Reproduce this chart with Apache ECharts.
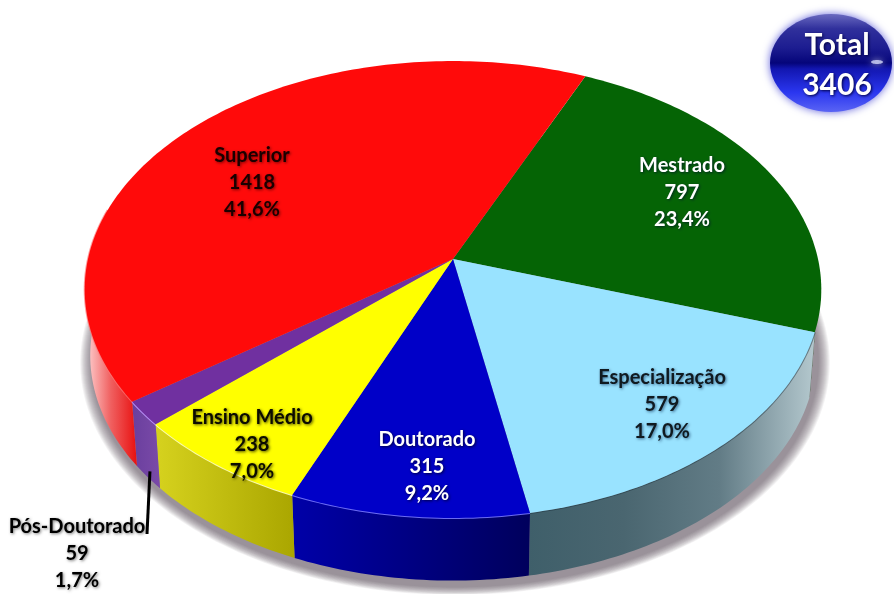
<!DOCTYPE html>
<html><head><meta charset="utf-8">
<style>html,body{margin:0;padding:0;background:#fff}#c{width:894px;height:594px}</style>
<script src="https://cdn.jsdelivr.net/npm/echarts@6/dist/echarts.min.js"></script>
</head><body><div id="c"></div>
<script>
const categories = ['Mestrado','Especialização','Doutorado','Ensino Médio','Pós-Doutorado','Superior'];
const values = [797,579,315,238,59,1418];
const percents = ['23,4%','17,0%','9,2%','7,0%','1,7%','41,6%'];
const totalLabel = ['Total','3406'];

const topColors = ['#056405','#99e3ff','#0000c8','#ffff00','#7030a0','#ff0a0a'];
const wallStops = [
  ['#0a4a0a','#0a4a0a'],
  ['#3f5f6a','#4a6670','#627c86','#b4c8ce'],
  ['#0000a8','#00005c'],
  ['#d6d21e','#aaa600'],
  ['#6a3f9e','#7a4aa8'],
  ['#ffd8d8','#f06060','#e81010']
];
const rimColors = ['rgba(0,0,0,0)','rgba(30,50,60,.5)','rgba(120,120,255,.9)','rgba(255,255,190,.9)','rgba(190,150,255,.9)','rgba(255,120,120,.7)'];
const textColors = ['#fff','#101a20','#fff','#0c0c00','#000','#1a0000'];
const textShadows = ['#022','#3a6a90','#00003c','#4a4a00','#7a7a7a','#7a0000'];
const labelAnchors = [[682,193],[662,405],[427,467],[252,445],[77,554],[252,183]];

const disk = {cx:453, cy:259, a:365, b:224.4, p:0.1335, start:24};
const lower = {scale:0.985, dy:66.5};
const wallRange = [108,283];
const shadowLayers = {count:12, spread:12, shift:[2,6], fill:'rgba(90,80,90,0.075)'};
const rad = d => d*Math.PI/180;
function proj(t, r, base){
  const u = r*Math.sin(rad(t)), v = -r*Math.cos(rad(t)), k = 1-disk.p*v;
  const x = disk.a*u/k, y = disk.b*v/k;
  return base ? [disk.cx + x*lower.scale, disk.cy + lower.dy + y*lower.scale] : [disk.cx + x, disk.cy + y];
}
function arc(t0,t1,base){
  const n = Math.max(2,Math.ceil(Math.abs(t1-t0))), pts=[];
  for(let i=0;i<=n;i++) pts.push(proj(t0+(t1-t0)*i/n,1,base));
  return pts;
}
const total = values.reduce((s,x)=>s+x,0);
function sliceAngles(i){
  let acc=0; for(let j=0;j<i;j++) acc+=values[j];
  return [disk.start+acc/total*360, disk.start+(acc+values[i])/total*360];
}
function gradient(stops){
  return new echarts.graphic.LinearGradient(0,0,1,0,stops.map((c,i)=>({offset:i/(stops.length-1),color:c})));
}
function renderSlice(params){
  const i = params.dataIndex, [t0,t1] = sliceAngles(i), kids=[];
  const w0 = Math.max(t0,wallRange[0]), w1 = Math.min(t1,wallRange[1]);
  if(w1>w0){
    const wall = arc(w0,w1,false).concat(arc(w0,w1,true).reverse());
    kids.push({type:'polygon',z2:1,shape:{points:wall},style:{fill:gradient(wallStops[i])}});
    kids.push({type:'polyline',z2:4,shape:{points:arc(w0,w1,false)},style:{fill:null,stroke:rimColors[i],lineWidth:2}});
  }
  kids.push({type:'polygon',z2:5,shape:{points:[[disk.cx,disk.cy]].concat(arc(t0,t1,false))},style:{fill:topColors[i]}});
  const [lx,ly] = labelAnchors[i];
  kids.push({type:'text',z2:10,style:{x:lx,y:ly,text:[categories[i],values[i],percents[i]].join('\n'),
    align:'center',verticalAlign:'middle',font:'bold 20px Lato',lineHeight:27,fill:textColors[i],
    textShadowColor:textShadows[i],textShadowBlur:3,textShadowOffsetX:1,textShadowOffsetY:1}});
  return {type:'group',children:kids};
}
function renderShadow(){
  const kids=[], base=arc(0,360,true), ox=disk.cx, oy=disk.cy+lower.dy;
  for(let k=0;k<shadowLayers.count;k++){
    const d=shadowLayers.spread*(1-k/shadowLayers.count), s=1+d/disk.a;
    kids.push({type:'polygon',z2:k,shape:{points:base.map(p=>[ox+(p[0]-ox)*s+shadowLayers.shift[0],oy+(p[1]-oy)*s+shadowLayers.shift[1]])},style:{fill:shadowLayers.fill}});
  }
  return {type:'group',children:kids};
}
const leaderIdx = categories.indexOf('Pós-Doutorado');
const leaderTop = proj(sliceAngles(leaderIdx).reduce((a,b)=>a+b)/2,1,true);
const chart = echarts.init(document.getElementById('c'));
chart.setOption({
  animation:false, backgroundColor:'#fff',
  series:[
    {type:'custom',coordinateSystem:'none',z:1,silent:true,data:[total],renderItem:renderShadow},
    {type:'custom',coordinateSystem:'none',z:2,silent:true,data:values,renderItem:renderSlice}
  ],
  graphic:[
    {type:'line',z:20,shape:{x1:leaderTop[0]+2,y1:leaderTop[1]-6,x2:147,y2:534},style:{stroke:'#000',lineWidth:3}},
    {type:'ellipse',z:20,shape:{cx:831,cy:63,rx:61,ry:49},style:{
      fill:new echarts.graphic.LinearGradient(0,0,0,1,[{offset:0,color:'#6a6ac0'},{offset:.15,color:'#30309c'},{offset:.35,color:'#1c1c90'},{offset:.5,color:'#05057a'},{offset:.56,color:'#1216b0'},{offset:.8,color:'#2a36f0'},{offset:1,color:'#5a64f4'}]),
      shadowColor:'rgba(60,60,210,.8)',shadowBlur:8}},
    {type:'ellipse',z:21,shape:{cx:877,cy:62,rx:6,ry:2},style:{fill:'rgba(220,225,255,.75)',shadowColor:'#dde',shadowBlur:6}},
    {type:'text',z:22,style:{x:837,y:65,text:totalLabel.join('\n'),align:'center',verticalAlign:'middle',font:'bold 30px Lato',lineHeight:40,fill:'#fff',textShadowColor:'#000040',textShadowBlur:3,textShadowOffsetX:1,textShadowOffsetY:1}}
  ]
});
</script></body></html>
